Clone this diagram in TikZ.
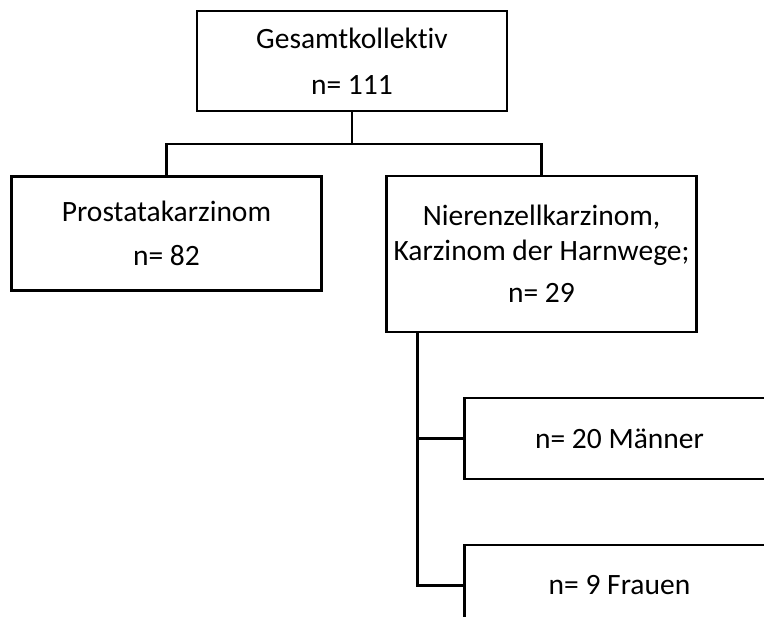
\documentclass[tikz,border=0pt]{standalone}
\usepackage{fontspec}
\setmainfont{Carlito}[Ligatures=CommonOff]
\usepackage{tikz}

\begin{document}
\begin{tikzpicture}[x=1pt,y=-1pt,line width=2.7pt,
  every node/.style={font=\fontsize{29.5}{35}\selectfont,align=center,inner sep=0pt}]
  \tikzstyle{group}=[draw,minimum width=310pt]

  \useasboundingbox (0,0) rectangle (764,617);
  \clip (0,0) rectangle (764,617);

  \node[group,minimum height=100pt] (all)      at (352,61)    {Gesamtkollektiv\\[11pt]n= 111};
  \node[group,minimum height=114pt] (prostate) at (166.5,233.5) {Prostatakarzinom\\[9pt]n= 82};
  \node[group,minimum height=156pt] (renal)    at (541.5,254) {Nierenzellkarzinom,\\Karzinom der Harnwege;\\[7pt]n= 29};
  \node[group,minimum height=81pt]  (men)      at (619.5,438.5) {n= 20 Männer};
  \node[group,minimum height=81pt]  (women)    at (619.5,585.5) {n= 9 Frauen};

  \coordinate (split) at (352,144);
  \draw (all) -- (split) -| (prostate);
  \draw (split) -| (renal);
  \draw ([xshift=32pt]renal.south west) |- (men.west);
  \draw ([xshift=32pt]renal.south west) |- (women.west);
\end{tikzpicture}
\end{document}
